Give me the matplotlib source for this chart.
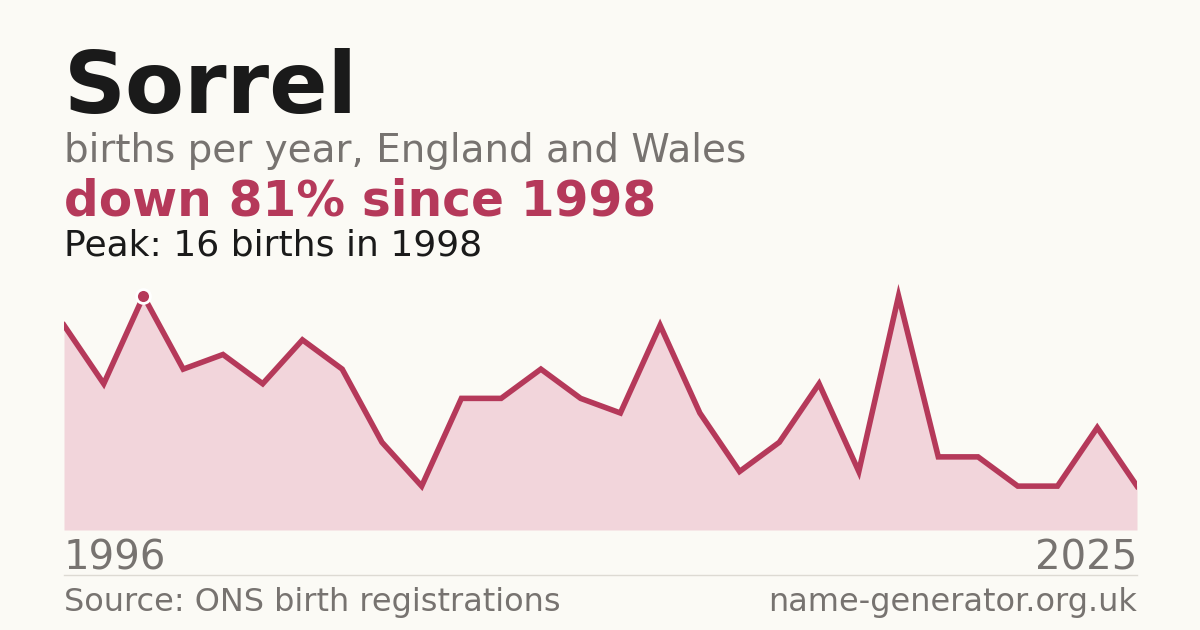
import numpy as np
import matplotlib.pyplot as plt

births = [14, 10, 16, 11, 12, 10, 13, 11, 6, 3, 9, 9, 11, 9, 8, 14, 8, 4, 6, 10, 4, 16, 5, 5, 3, 3, 7, 3]
first_year, last_year = "1996", "2025"
title = "Sorrel"
subtitle = "births per year, England and Wales"
change = "down 81% since 1998"
peak = "Peak: 16 births in 1998"

bg = "#fbfaf5"
red = "#b5395a"

fig = plt.figure(figsize=(12, 6.3), dpi=100, facecolor=bg)
ax = fig.add_axes([64/1200, 100/630, 1073/1200, 250/630])
ax.set_facecolor(bg)
x = np.arange(len(births))
ax.fill_between(x, births, 0, color="#f2d5db", lw=0)
ax.plot(x, births, color=red, lw=4, solid_joinstyle="miter")
pk = int(np.argmax(births))
ax.plot(pk, births[pk], "o", ms=10, color=red, mec="white", mew=2, zorder=5)
ax.set_xlim(0, len(births) - 1)
ax.set_ylim(0, 250/14.625)
ax.axis("off")

fig.text(64/1200, 1 - 113/630, title, fontsize=62, fontweight="bold", color="#1a1a1a")
fig.text(64/1200, 1 - 162/630, subtitle, fontsize=28, color="#777370")
fig.text(64/1200, 1 - 215/630, change, fontsize=35, fontweight="bold", color=red)
fig.text(64/1200, 1 - 256/630, peak, fontsize=26, color="#1a1a1a")
fig.text(64/1200, 1 - 570/630, first_year, fontsize=29, color="#777370")
fig.text(1137/1200, 1 - 570/630, last_year, fontsize=29, color="#777370", ha="right")
fig.add_artist(plt.Line2D([64/1200, 1137/1200], [1 - 575/630] * 2, color="#dddad3", lw=1))
fig.text(64/1200, 1 - 611/630, "Source: ONS birth registrations", fontsize=23, color="#777370")
fig.text(1137/1200, 1 - 611/630, "name-generator.org.uk", fontsize=23, color="#777370", ha="right")

fig.savefig("out.png", facecolor=bg)
